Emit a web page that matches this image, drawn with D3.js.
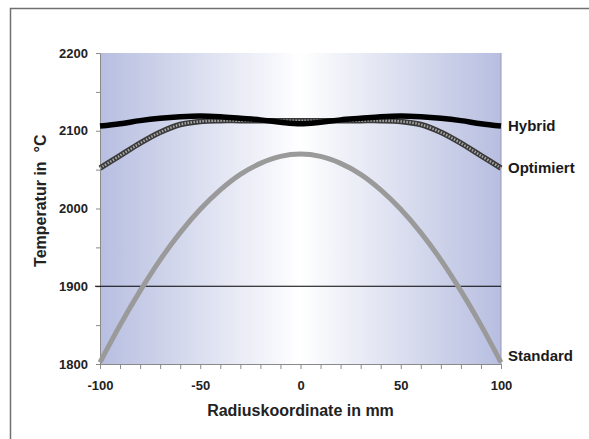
<!DOCTYPE html>
<html>
<head>
<meta charset="utf-8">
<script src="https://cdn.jsdelivr.net/npm/d3@7"></script>
<style>
	body { margin: 0; background: #fff; }
	svg { display: block; font-family: Arial, "Liberation Sans", sans-serif; }
</style>
</head>
<body>
<svg></svg>
<script>
// data
var radius = [-100, -90, -80, -70, -60, -50, -40, -30, -20, -10, 0, 10, 20, 30, 40, 50, 60, 70, 80, 90, 100];
var hybrid = [2106, 2109, 2113, 2116, 2118, 2119, 2118, 2116, 2114, 2111, 2109, 2111, 2114, 2116, 2118, 2119, 2118, 2116, 2113, 2109, 2106];
var optimiert = [2052, 2068, 2084, 2098, 2108, 2112, 2113, 2113, 2113, 2113, 2113, 2113, 2113, 2113, 2113, 2112, 2108, 2098, 2084, 2068, 2052];
var standard = [1802, 1850, 1894, 1934, 1969, 1999, 2024, 2044, 2058, 2067, 2070, 2067, 2058, 2044, 2024, 1999, 1969, 1934, 1894, 1850, 1802];
var xTicks = [-100, -90, -80, -70, -60, -50, -40, -30, -20, -10, 0, 10, 20, 30, 40, 50, 60, 70, 80, 90, 100];
var yTicks = [1800, 1850, 1900, 1950, 2000, 2050, 2100, 2150, 2200];
var refLine = 1900;

var margin = {top: 53, right: 88, bottom: 75, left: 100},
	width = 589 - margin.left - margin.right,
	height = 439 - margin.top - margin.bottom;

var svg = d3.select("svg")
	.attr("width", 589)
	.attr("height", 439);

// outer frame
svg.append("rect")
	.attr("x", 10.5)
	.attr("y", 8.5)
	.attr("width", 620)
	.attr("height", 500)
	.attr("fill", "none")
	.attr("stroke", "#707070")
	.attr("stroke-width", 1.5);

// background gradient
var grad = svg.append("defs").append("linearGradient")
	.attr("id", "bg")
	.attr("x1", "0%").attr("x2", "100%")
	.attr("y1", "0%").attr("y2", "0%");
grad.append("stop").attr("offset", "0%").attr("stop-color", "#b7bee0");
grad.append("stop").attr("offset", "50%").attr("stop-color", "#ffffff");
grad.append("stop").attr("offset", "100%").attr("stop-color", "#b7bee0");

var g = svg.append("g")
	.attr("transform", "translate(" + margin.left + "," + margin.top + ")");

var scaleX = d3.scaleLinear().domain([-100, 100]).range([0, width]);
var scaleY = d3.scaleLinear().domain([1800, 2200]).range([height, 0]);

g.append("rect")
	.attr("width", width)
	.attr("height", height)
	.attr("fill", "url(#bg)");

// right edge of plot area
g.append("line")
	.attr("x1", width).attr("x2", width)
	.attr("y1", 0).attr("y2", height)
	.attr("stroke", "#9a9ab0")
	.attr("stroke-width", 1);

// x axis
var xAxis = g.append("g")
	.attr("transform", "translate(0," + height + ")")
	.call(d3.axisBottom(scaleX)
		.tickValues(xTicks)
		.tickSize(5)
		.tickSizeOuter(0)
		.tickFormat(function(d) { return d % 50 === 0 ? String(d) : ""; }));
xAxis.selectAll("path, line").attr("stroke", "#8a8a8a");
xAxis.selectAll("text")
	.attr("dy", "1.4em")
	.style("font-size", "13px")
	.style("font-weight", "bold")
	.attr("fill", "#222");

// y axis
var yAxis = g.append("g")
	.call(d3.axisLeft(scaleY)
		.tickValues(yTicks)
		.tickSize(4)
		.tickSizeOuter(0)
		.tickFormat(function(d) { return d % 100 === 0 ? String(d) : ""; }));
yAxis.selectAll("path, line").attr("stroke", "#8a8a8a");
yAxis.selectAll("text")
	.attr("x", -12)
	.style("font-size", "13px")
	.style("font-weight", "bold")
	.attr("fill", "#222");

// 1900 line
g.append("line")
	.attr("x1", -5).attr("x2", width)
	.attr("y1", scaleY(refLine)).attr("y2", scaleY(refLine))
	.attr("stroke", "#000")
	.attr("stroke-width", 1.2);

var line = function(values) {
	return d3.line()
		.x(function(d, i) { return scaleX(radius[i]); })
		.y(function(d) { return scaleY(d); })
		.curve(d3.curveCatmullRom)(values);
};

// Standard
g.append("path")
	.attr("d", line(standard))
	.attr("fill", "none")
	.attr("stroke", "#9a9a9a")
	.attr("stroke-width", 5);

// Optimiert: dark outline with light hatched core
g.append("path")
	.attr("d", line(optimiert))
	.attr("fill", "none")
	.attr("stroke", "#3a3a3a")
	.attr("stroke-width", 5.5);
g.append("path")
	.attr("d", line(optimiert))
	.attr("fill", "none")
	.attr("stroke", "#a8a8a8")
	.attr("stroke-width", 2.5)
	.attr("stroke-dasharray", "1.5,1.5");

// Hybrid
g.append("path")
	.attr("d", line(hybrid))
	.attr("fill", "none")
	.attr("stroke", "#000")
	.attr("stroke-width", 5.5);

// series labels
var labels = [
	{name: "Hybrid", v: hybrid[hybrid.length - 1], dy: 0},
	{name: "Optimiert", v: optimiert[optimiert.length - 1], dy: 0},
	{name: "Standard", v: standard[standard.length - 1], dy: -7}
];
g.selectAll(".lbl")
	.data(labels)
	.enter()
	.append("text")
	.attr("x", width + 7)
	.attr("y", function(d) { return scaleY(d.v) + d.dy; })
	.attr("dy", "0.36em")
	.style("font-size", "15px")
	.style("font-weight", "bold")
	.attr("fill", "#1a1a1a")
	.text(function(d) { return d.name; });

// axis titles
g.append("text")
	.attr("x", width / 2)
	.attr("y", height + 52)
	.style("text-anchor", "middle")
	.style("font-size", "16px")
	.style("font-weight", "bold")
	.attr("fill", "#222")
	.text("Radiuskoordinate in mm");

g.append("text")
	.attr("transform", "rotate(-90)")
	.attr("x", -(scaleY(2010)))
	.attr("y", -54)
	.style("text-anchor", "middle")
	.style("font-size", "16px")
	.style("font-weight", "bold")
	.attr("fill", "#222")
	.text("Temperatur in \u00a0°C");
</script>
</body>
</html>
